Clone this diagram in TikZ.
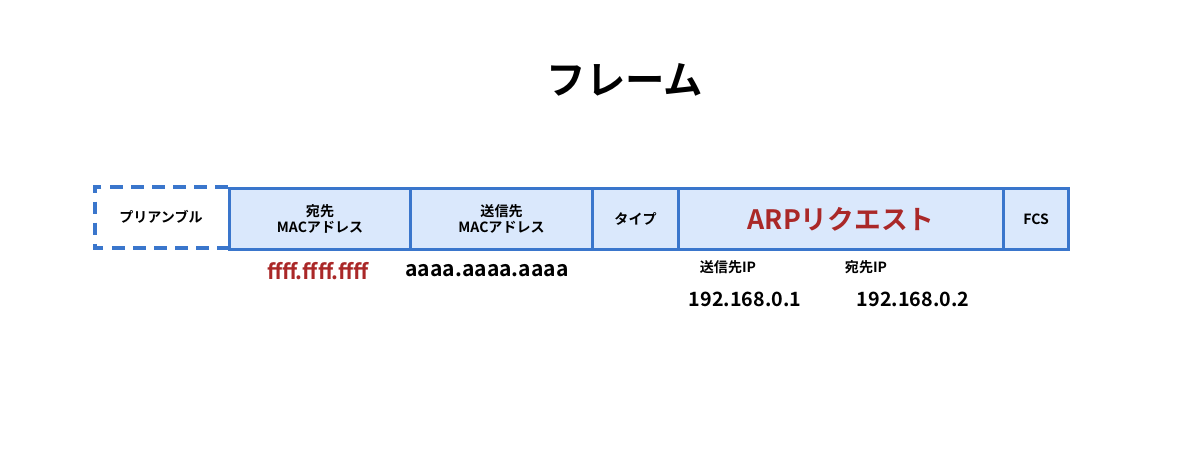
\documentclass[tikz,border=0pt]{standalone}
\usepackage{fontspec}
\setmainfont{Noto Sans CJK JP}[BoldFont={Noto Sans CJK JP Bold}]
\definecolor{fieldblue}{RGB}{218,232,252}
\definecolor{lineblue}{RGB}{58,118,204}
\definecolor{myred}{RGB}{170,40,40}
\tikzset{
    field/.style={draw=lineblue, fill=fieldblue, line width=2.2pt, minimum height=61*0.025cm, anchor=north west, inner sep=0pt, align=center, font=\bfseries\fontsize{10}{11}\selectfont},
    value/.style={font=\bfseries\fontsize{15}{17}\selectfont},
    small/.style={font=\bfseries\fontsize{10}{12}\selectfont}
}
\begin{document}
\begin{tikzpicture}[x=0.025cm, y=-0.025cm]
    \useasboundingbox (0, 0) rectangle (1200, 467);
    % Title
    \node[font=\bfseries\fontsize{28}{30}\selectfont] (title) at (625, 80) {フレーム};
    % Preamble (dashed)
    \draw[lineblue, line width=2.2pt, dash pattern=on 9pt off 6pt] (228, 187) -- (95, 187) -- (95, 248) -- (228, 248);
    \node[small] (pre) at (161, 217) {プリアンブル};
    % Frame fields
    \node[field, minimum width=181*0.025cm] (dst) at (228, 187) {宛先\\MACアドレス};
    \node[field, minimum width=182*0.025cm] (src) at (409, 187) {送信先\\MACアドレス};
    \node[field, minimum width=86*0.025cm] (type) at (591, 187) {タイプ};
    \node[field, minimum width=325*0.025cm, text=myred, font=\bfseries\fontsize{19}{21}\selectfont] (arp) at (677, 187) {ARPリクエスト};
    \node[field, minimum width=65*0.025cm] (fcs) at (1002, 187) {FCS};
    % Addresses
    \node[value, text=myred] (dstmac) at (318, 271) {ffff.ffff.ffff};
    \node[value] (srcmac) at (487, 271) {aaaa.aaaa.aaaa};
    \node[small] (srciplbl) at (728, 267) {送信先IP};
    \node[small] (dstiplbl) at (866, 267) {宛先IP};
    \node[value, font=\bfseries\fontsize{14}{16}\selectfont] (srcip) at (745, 299) {192.168.0.1};
    \node[value, font=\bfseries\fontsize{14}{16}\selectfont] (dstip) at (913, 299) {192.168.0.2};
\end{tikzpicture}
\end{document}
